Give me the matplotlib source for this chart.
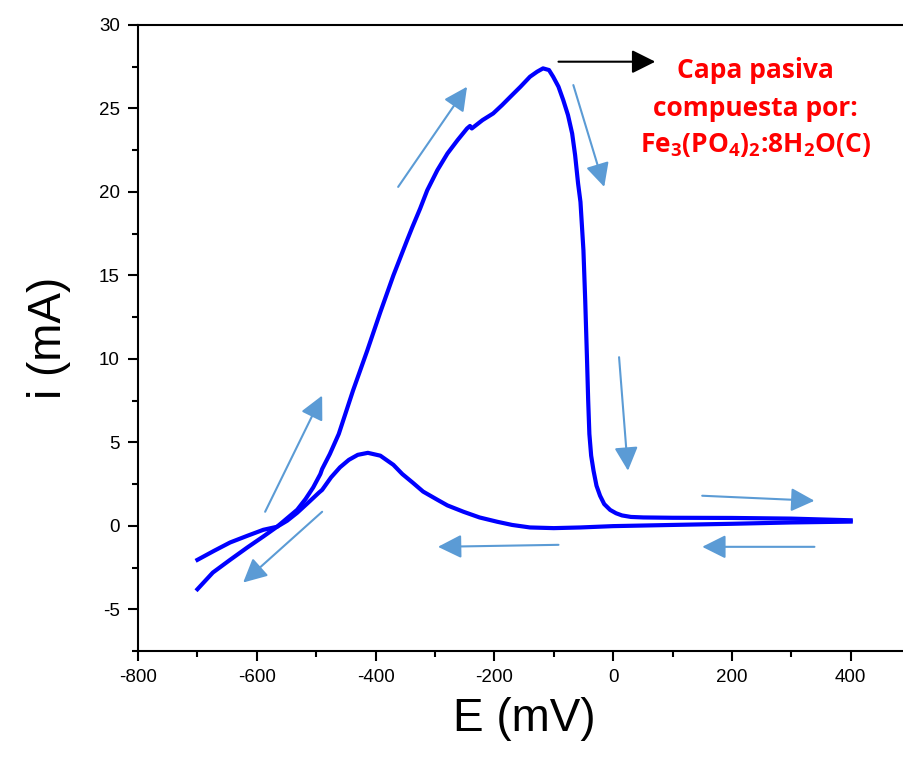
import matplotlib
matplotlib.use("Agg")
import matplotlib.pyplot as plt
from matplotlib.ticker import MultipleLocator

plt.rcParams["font.family"] = ["Liberation Sans", "DejaVu Sans"]
plt.rcParams["axes.unicode_minus"] = False
plt.rcParams["mathtext.fontset"] = "custom"
plt.rcParams["mathtext.rm"] = "Open Sans:bold"
plt.rcParams["mathtext.default"] = "rm"

# Forward (anodic) scan: -700 -> 400 mV
E_fwd = [-700, -674, -645, -616, -589, -566, -549, -532, -518, -505, -493, -490,
         -477, -462, -438, -414, -392, -370, -347, -338, -325, -313, -296,
         -279, -262, -246, -241, -238, -220, -202, -187, -173, -156, -140, -128,
         -118, -108, -101, -92, -84, -76, -69, -64, -59, -55, -50, -47, -44, -42,
         -40, -37, -33, -28, -22, -15, -5, 5, 15, 30, 51, 100, 200, 300, 400]
i_fwd = [-3.8, -2.8, -2.04, -1.3, -0.64, -0.06, 0.45, 0.96, 1.6, 2.3, 3.1, 3.4,
         4.3, 5.5, 8.1, 10.5, 12.8, 15.0, 17.1, 17.9, 19.0, 20.1, 21.3,
         22.3, 23.1, 23.8, 23.95, 23.8, 24.3, 24.7, 25.2, 25.7, 26.3, 26.9, 27.2,
         27.4, 27.3, 26.9, 26.3, 25.5, 24.6, 23.5, 22.2, 20.5, 19.4, 16.5, 13.5,
         10.0, 7.5, 5.5, 4.2, 3.3, 2.4, 1.8, 1.3, 0.95, 0.75, 0.62, 0.53, 0.5,
         0.48, 0.47, 0.43, 0.33]

# Reverse scan: 400 -> -700 mV
E_rev = [400, 300, 200, 113, 0, -55, -100, -140, -170, -195, -225, -252, -279,
         -296, -320, -337, -355, -370, -392, -413, -430, -445, -460, -475, -490,
         -495, -510, -532, -549, -566, -589, -616, -645, -672, -700]
i_rev = [0.25, 0.2, 0.12, 0.06, -0.02, -0.1, -0.14, -0.1, 0.05, 0.24, 0.5,
         0.84, 1.22, 1.56, 2.05, 2.57, 3.1, 3.65, 4.2, 4.37, 4.25, 3.95, 3.5, 2.9,
         2.15, 2.0, 1.5, 0.78, 0.3, -0.06, -0.24, -0.6, -1.0, -1.5, -2.04]

# scan-direction arrows: (tail E, tail i, head E, head i)
scan_arrows = [
    (-586, 0.84, -490, 7.8),
    (-490, 0.84, -623, -3.4),
    (-362, 20.3, -246, 26.3),
    (-67, 26.4, -15, 20.3),
    (10, 10.1, 25, 3.3),
    (150, 1.8, 339, 1.5),
    (339, -1.26, 150, -1.26),
    (-92, -1.14, -295, -1.26),
]

fig = plt.figure(figsize=(9.04, 7.59), dpi=100)
ax = fig.add_axes([0.1527, 0.1423, 0.854, 0.8248])

ax.plot(E_fwd, i_fwd, color="#0000FF", lw=3)
ax.plot(E_rev, i_rev, color="#0000FF", lw=3)

for x0, y0, x1, y1 in scan_arrows:
    ax.annotate("", xy=(x1, y1), xytext=(x0, y0),
                arrowprops=dict(arrowstyle="-|>,head_length=0.4,head_width=0.2",
                                mutation_scale=36, color="#5B9BD5", lw=1.5,
                                shrinkA=0, shrinkB=0))

# passive-layer annotation
ax.annotate("", xy=(71, 27.8), xytext=(-92, 27.8),
            arrowprops=dict(arrowstyle="-|>,head_length=0.4,head_width=0.2",
                            mutation_scale=36, color="black", lw=1.5,
                            shrinkA=0, shrinkB=0))
ax.text(240, 27.3, "Capa pasiva", color="red", fontsize=19,
        family="Open Sans", fontweight="bold", ha="center", va="center")
ax.text(240, 25.0, "compuesta por:", color="red", fontsize=19,
        family="Open Sans", fontweight="bold", ha="center", va="center")
ax.text(240, 22.8, r"Fe$_3$(PO$_4$)$_2$:8H$_2$O(C)", color="red", fontsize=19,
        family="Open Sans", fontweight="bold", ha="center", va="center")

ax.set_xlim(-800, 500)
ax.set_ylim(-7.5, 30)
ax.xaxis.set_major_locator(MultipleLocator(200))
ax.xaxis.set_minor_locator(MultipleLocator(100))
ax.yaxis.set_major_locator(MultipleLocator(5))
ax.yaxis.set_minor_locator(MultipleLocator(2.5))
ax.set_xticks([-800, -600, -400, -200, 0, 200, 400])
ax.set_yticks([-5, 0, 5, 10, 15, 20, 25, 30])

for s in ax.spines.values():
    s.set_linewidth(1.5)
ax.tick_params(which="major", direction="out", length=7, width=1.5,
               labelsize=13.5, pad=6)
ax.tick_params(which="minor", direction="out", length=4, width=1.5)

ax.set_xlabel("E (mV)", fontsize=33, labelpad=8)
ax.set_ylabel("i (mA)", fontsize=33, labelpad=20)

fig.savefig("out.png", dpi=100)
